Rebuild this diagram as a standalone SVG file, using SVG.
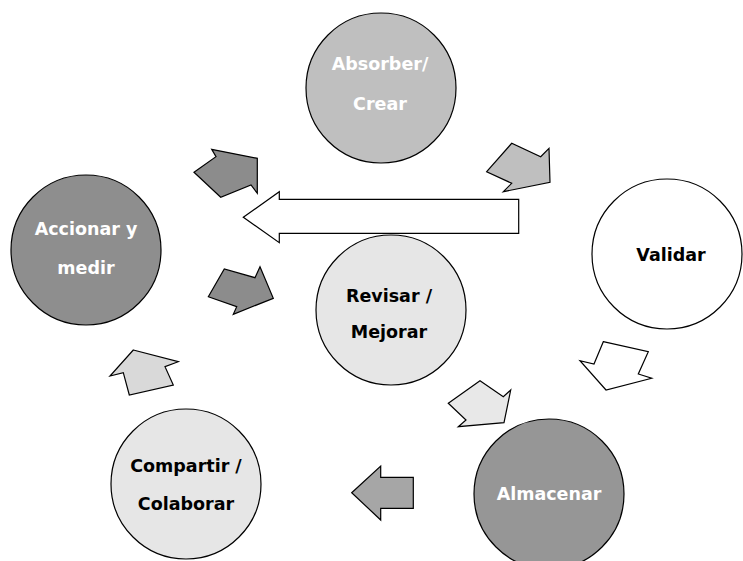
<svg xmlns="http://www.w3.org/2000/svg" width="743" height="561" viewBox="0 0 743 561">
<style>
.c{stroke:#000;stroke-width:1.2}
.a{stroke:#000;stroke-width:1.2;stroke-linejoin:miter}
.t{font-family:"DejaVu Sans",sans-serif;font-weight:bold;font-size:17.5px;text-anchor:middle}
.w{fill:#fff}
.k{fill:#000}
</style>
<rect width="743" height="561" fill="#fff"/>
<g id="connectors">
<polygon class="a" fill="#8c8c8c" points="194,172.3 216,156.7 211.7,149.3 257.3,158.3 257.3,193.3 251,185 220.7,197.3"/>
<polygon class="a" fill="#bfbfbf" points="486.7,171.7 511.7,143.3 540.7,156.7 549,148.3 550,182.3 503.3,191.7 511.7,183.3"/>
<polygon class="a" fill="#fff" points="243.3,217.3 279.3,191.7 279.3,199.3 518.7,199.3 518.7,233.3 279.3,233.3 279.3,242.7"/>
<polygon class="a" fill="#8c8c8c" points="208.3,296.7 224.3,269 255,277.7 260,266.7 273.3,298.3 233.3,314.3 236.7,306.7"/>
<polygon class="a" fill="#fff" points="603.3,341.7 648.3,351.7 638.3,374 651.7,378.3 606,390 580,360.7 594,364"/>
<polygon class="a" fill="#e8e8e8" points="448.3,403.3 480,380.7 503.3,396.7 510.7,390 504,422.7 458.3,426.7 466,420"/>
<polygon class="a" fill="#a6a6a6" points="351.7,492.7 380.7,466 380.7,477.3 413.3,477.3 413.3,508.3 380.7,508.3 380.7,520"/>
<polygon class="a" fill="#d9d9d9" points="133.3,350 178.3,361.7 165,366.7 173.3,385 129.3,395 123.3,372.7 110,376"/>
</g>
<g id="absorber">
<circle class="c" cx="381" cy="88" r="75" fill="#bfbfbf"/>
<text class="t w" x="380" y="70">Absorber/</text>
<text class="t w" x="380" y="110">Crear</text>
</g>
<g id="validar">
<circle class="c" cx="667" cy="254" r="75" fill="#fff"/>
<text class="t k" x="671" y="261">Validar</text>
</g>
<g id="almacenar">
<circle class="c" cx="549" cy="494" r="75" fill="#969696"/>
<text class="t w" x="549" y="500">Almacenar</text>
</g>
<g id="compartir">
<circle class="c" cx="186" cy="484" r="75" fill="#e6e6e6"/>
<text class="t k" x="186" y="472">Compartir /</text>
<text class="t k" x="186" y="510">Colaborar</text>
</g>
<g id="accionar">
<circle class="c" cx="86" cy="250" r="75" fill="#8e8e8e"/>
<text class="t w" x="86" y="235">Accionar y</text>
<text class="t w" x="86" y="274">medir</text>
</g>
<g id="revisar">
<circle class="c" cx="391" cy="310" r="75" fill="#e6e6e6"/>
<text class="t k" x="389" y="302">Revisar /</text>
<text class="t k" x="389" y="338">Mejorar</text>
</g>
</svg>
